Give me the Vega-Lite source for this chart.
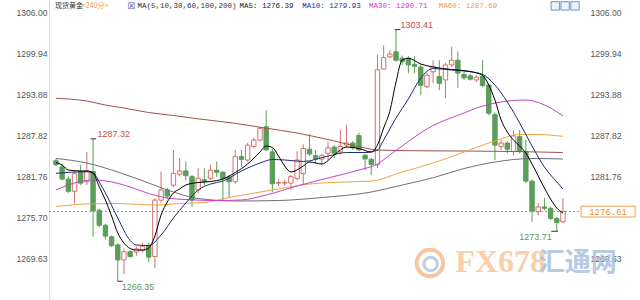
{
"$schema": "https://vega.github.io/schema/vega-lite/v6.json",
"width": 538, "height": 300,
"autosize": "none",
"padding": {"left": 49, "right": 53, "top": 0, "bottom": 0},
"background": "white",
"config": {"view": {"stroke": null}},
"datasets": {
"one": [{"k": 1}],
"icons": [{"p": 80.75}, {"p": 82.35}, {"p": 83.95}],
"candles": [
{"i":0,"o":1284.1,"h":1284.4,"l":1283.3,"c":1283.5},
{"i":1,"o":1283.2,"h":1283.6,"l":1281.2,"c":1281.4},
{"i":2,"o":1281.4,"h":1281.8,"l":1279.3,"c":1279.6},
{"i":3,"o":1279.6,"h":1282.7,"l":1277.8,"c":1282.2},
{"i":4,"o":1282.5,"h":1283.5,"l":1280.5,"c":1280.8},
{"i":5,"o":1281.0,"h":1285.4,"l":1280.5,"c":1282.6},
{"i":6,"o":1282.5,"h":1287.32,"l":1272.9,"c":1276.7},
{"i":7,"o":1276.8,"h":1277.0,"l":1274.3,"c":1274.6},
{"i":8,"o":1274.6,"h":1274.8,"l":1272.5,"c":1273.0},
{"i":9,"o":1272.9,"h":1273.1,"l":1271.4,"c":1271.6},
{"i":10,"o":1271.7,"h":1272.0,"l":1266.35,"c":1269.5},
{"i":11,"o":1269.5,"h":1271.2,"l":1267.4,"c":1270.7},
{"i":12,"o":1270.7,"h":1270.9,"l":1269.8,"c":1270.0},
{"i":13,"o":1270.66,"h":1271.5,"l":1270.07,"c":1271.1},
{"i":14,"o":1270.9,"h":1272.0,"l":1270.6,"c":1271.5},
{"i":15,"o":1271.6,"h":1272.0,"l":1269.2,"c":1269.9},
{"i":16,"o":1270.0,"h":1278.6,"l":1268.3,"c":1278.3},
{"i":17,"o":1278.3,"h":1282.5,"l":1277.9,"c":1279.8},
{"i":18,"o":1279.8,"h":1280.1,"l":1278.4,"c":1278.9},
{"i":19,"o":1280.5,"h":1285.7,"l":1280.2,"c":1282.25},
{"i":20,"o":1282.1,"h":1284.5,"l":1281.8,"c":1282.6},
{"i":21,"o":1282.6,"h":1284.0,"l":1281.2,"c":1281.9},
{"i":22,"o":1281.75,"h":1282.0,"l":1277.3,"c":1278.3},
{"i":23,"o":1279.8,"h":1283.0,"l":1279.3,"c":1281.5},
{"i":24,"o":1281.3,"h":1283.0,"l":1280.5,"c":1281.0},
{"i":25,"o":1281.5,"h":1283.5,"l":1281.2,"c":1282.7},
{"i":26,"o":1282.7,"h":1284.0,"l":1281.7,"c":1282.4},
{"i":27,"o":1282.4,"h":1282.6,"l":1278.3,"c":1281.5},
{"i":28,"o":1281.7,"h":1282.0,"l":1278.6,"c":1281.0},
{"i":29,"o":1281.0,"h":1285.7,"l":1280.7,"c":1284.7},
{"i":30,"o":1284.7,"h":1285.7,"l":1283.2,"c":1284.3},
{"i":31,"o":1284.2,"h":1286.7,"l":1283.9,"c":1286.4},
{"i":32,"o":1286.2,"h":1287.5,"l":1285.9,"c":1287.15},
{"i":33,"o":1287.15,"h":1289.1,"l":1286.9,"c":1288.87},
{"i":34,"o":1289.1,"h":1291.5,"l":1285.5,"c":1285.7},
{"i":35,"o":1285.4,"h":1285.9,"l":1279.5,"c":1280.7},
{"i":36,"o":1280.8,"h":1281.3,"l":1280.4,"c":1280.9},
{"i":37,"o":1280.8,"h":1281.3,"l":1280.4,"c":1280.9},
{"i":38,"o":1280.8,"h":1282.0,"l":1279.8,"c":1281.75},
{"i":39,"o":1281.5,"h":1285.5,"l":1281.2,"c":1284.2},
{"i":40,"o":1282.2,"h":1286.5,"l":1280.5,"c":1285.9},
{"i":41,"o":1285.8,"h":1288.0,"l":1284.8,"c":1285.1},
{"i":42,"o":1284.85,"h":1285.7,"l":1283.7,"c":1284.35},
{"i":43,"o":1284.35,"h":1285.1,"l":1283.5,"c":1284.85},
{"i":44,"o":1285.2,"h":1286.9,"l":1284.2,"c":1286.0},
{"i":45,"o":1286.1,"h":1286.4,"l":1284.5,"c":1285.2},
{"i":46,"o":1285.4,"h":1288.6,"l":1285.0,"c":1286.2},
{"i":47,"o":1286.4,"h":1289.4,"l":1286.0,"c":1286.7},
{"i":48,"o":1286.7,"h":1287.0,"l":1285.7,"c":1286.0},
{"i":49,"o":1287.8,"h":1288.2,"l":1285.5,"c":1285.7},
{"i":50,"o":1284.9,"h":1285.1,"l":1282.73,"c":1284.35},
{"i":51,"o":1284.3,"h":1284.5,"l":1282.0,"c":1283.55},
{"i":52,"o":1283.5,"h":1299.7,"l":1283.0,"c":1297.5},
{"i":53,"o":1297.6,"h":1301.1,"l":1297.5,"c":1299.3},
{"i":54,"o":1299.4,"h":1300.4,"l":1299.2,"c":1299.8},
{"i":55,"o":1300.15,"h":1303.41,"l":1298.7,"c":1298.9},
{"i":56,"o":1299.2,"h":1299.6,"l":1298.2,"c":1298.7},
{"i":57,"o":1299.2,"h":1299.5,"l":1297.0,"c":1298.2},
{"i":58,"o":1298.3,"h":1299.5,"l":1297.0,"c":1298.0},
{"i":59,"o":1297.9,"h":1298.2,"l":1293.8,"c":1295.2},
{"i":60,"o":1295.0,"h":1297.0,"l":1294.8,"c":1296.7},
{"i":61,"o":1297.2,"h":1298.9,"l":1295.5,"c":1297.95},
{"i":62,"o":1296.5,"h":1298.9,"l":1294.5,"c":1295.5},
{"i":63,"o":1296.0,"h":1298.5,"l":1293.3,"c":1298.2},
{"i":64,"o":1298.2,"h":1300.9,"l":1297.9,"c":1298.9},
{"i":65,"o":1298.9,"h":1300.2,"l":1294.8,"c":1297.0},
{"i":66,"o":1296.8,"h":1297.2,"l":1296.0,"c":1296.3},
{"i":67,"o":1296.6,"h":1296.9,"l":1295.9,"c":1296.1},
{"i":68,"o":1296.0,"h":1296.7,"l":1295.7,"c":1296.4},
{"i":69,"o":1296.5,"h":1298.9,"l":1294.9,"c":1295.15},
{"i":70,"o":1295.25,"h":1295.5,"l":1290.8,"c":1291.1},
{"i":71,"o":1290.9,"h":1291.2,"l":1284.2,"c":1286.4},
{"i":72,"o":1286.2,"h":1287.15,"l":1285.7,"c":1286.7},
{"i":73,"o":1286.7,"h":1287.0,"l":1285.2,"c":1285.8},
{"i":74,"o":1285.45,"h":1288.6,"l":1284.9,"c":1287.75},
{"i":75,"o":1287.65,"h":1288.6,"l":1285.2,"c":1285.45},
{"i":76,"o":1285.4,"h":1287.15,"l":1280.8,"c":1281.1},
{"i":77,"o":1281.1,"h":1281.3,"l":1275.1,"c":1276.7},
{"i":78,"o":1276.6,"h":1277.9,"l":1276.1,"c":1277.3},
{"i":79,"o":1277.3,"h":1278.6,"l":1276.8,"c":1277.1},
{"i":80,"o":1277.1,"h":1277.3,"l":1275.4,"c":1275.6},
{"i":81,"o":1275.6,"h":1275.8,"l":1273.71,"c":1275.0},
{"i":82,"o":1275.1,"h":1278.6,"l":1274.9,"c":1276.61}
],
"ma": [
{"ma":"MA200","i":0,"v":1293.29},{"ma":"MA200","i":5,"v":1292.89},{"ma":"MA200","i":8,"v":1292.30},{"ma":"MA200","i":11,"v":1291.86},{"ma":"MA200","i":15,"v":1291.20},{"ma":"MA200","i":19,"v":1290.76},{"ma":"MA200","i":23,"v":1290.27},{"ma":"MA200","i":29,"v":1289.60},{"ma":"MA200","i":34,"v":1288.89},{"ma":"MA200","i":39,"v":1288.18},{"ma":"MA200","i":44,"v":1287.22},{"ma":"MA200","i":50,"v":1285.97},{"ma":"MA200","i":52,"v":1285.68},{"ma":"MA200","i":58,"v":1285.57},{"ma":"MA200","i":66,"v":1285.53},{"ma":"MA200","i":74,"v":1285.46},{"ma":"MA200","i":82,"v":1285.31},
{"ma":"MA100","i":0,"v":1284.43},{"ma":"MA100","i":5,"v":1283.76},{"ma":"MA100","i":10,"v":1282.44},{"ma":"MA100","i":15,"v":1280.82},{"ma":"MA100","i":19,"v":1279.49},{"ma":"MA100","i":23,"v":1278.54},{"ma":"MA100","i":29,"v":1278.17},{"ma":"MA100","i":36,"v":1278.24},{"ma":"MA100","i":43,"v":1278.68},{"ma":"MA100","i":51,"v":1279.49},{"ma":"MA100","i":56,"v":1280.52},{"ma":"MA100","i":61,"v":1281.60},{"ma":"MA100","i":66,"v":1282.95},{"ma":"MA100","i":71,"v":1283.91},{"ma":"MA100","i":77,"v":1284.43},{"ma":"MA100","i":82,"v":1284.35},
{"ma":"MA60","i":0,"v":1277.36},{"ma":"MA60","i":5,"v":1277.73},{"ma":"MA60","i":10,"v":1277.80},{"ma":"MA60","i":16,"v":1277.58},{"ma":"MA60","i":20,"v":1277.80},{"ma":"MA60","i":24,"v":1277.95},{"ma":"MA60","i":28,"v":1278.68},{"ma":"MA60","i":35,"v":1279.79},{"ma":"MA60","i":41,"v":1280.67},{"ma":"MA60","i":47,"v":1280.97},{"ma":"MA60","i":51,"v":1281.11},{"ma":"MA60","i":56,"v":1282.44},{"ma":"MA60","i":61,"v":1283.76},{"ma":"MA60","i":66,"v":1285.38},{"ma":"MA60","i":71,"v":1287.00},{"ma":"MA60","i":75,"v":1287.96},{"ma":"MA60","i":78,"v":1287.96},{"ma":"MA60","i":82,"v":1287.69},
{"ma":"MA30","i":0,"v":1279.79},{"ma":"MA30","i":3,"v":1280.82},{"ma":"MA30","i":6,"v":1281.26},{"ma":"MA30","i":9,"v":1280.97},{"ma":"MA30","i":12,"v":1280.23},{"ma":"MA30","i":15,"v":1279.27},{"ma":"MA30","i":18,"v":1278.61},{"ma":"MA30","i":21,"v":1278.39},{"ma":"MA30","i":26,"v":1278.24},{"ma":"MA30","i":30,"v":1278.32},{"ma":"MA30","i":34,"v":1279.05},{"ma":"MA30","i":39,"v":1280.38},{"ma":"MA30","i":44,"v":1281.56},{"ma":"MA30","i":49,"v":1282.73},{"ma":"MA30","i":52,"v":1283.62},{"ma":"MA30","i":54,"v":1284.94},{"ma":"MA30","i":56,"v":1286.27},{"ma":"MA30","i":58,"v":1287.59},{"ma":"MA30","i":61,"v":1289.29},{"ma":"MA30","i":63,"v":1290.10},{"ma":"MA30","i":66,"v":1291.13},{"ma":"MA30","i":68,"v":1291.86},{"ma":"MA30","i":70,"v":1292.38},{"ma":"MA30","i":73,"v":1292.89},{"ma":"MA30","i":76,"v":1293.04},{"ma":"MA30","i":78,"v":1292.67},{"ma":"MA30","i":80,"v":1291.86},{"ma":"MA30","i":82,"v":1290.71},
{"ma":"MA10","i":0,"v":1282.25},{"ma":"MA10","i":5,"v":1282.48},{"ma":"MA10","i":6,"v":1282.34},{"ma":"MA10","i":7,"v":1280.97},{"ma":"MA10","i":8,"v":1279.35},{"ma":"MA10","i":10,"v":1275.66},{"ma":"MA10","i":12,"v":1272.35},{"ma":"MA10","i":13,"v":1271.69},{"ma":"MA10","i":15,"v":1271.61},{"ma":"MA10","i":17,"v":1273.16},{"ma":"MA10","i":19,"v":1275.66},{"ma":"MA10","i":21,"v":1277.87},{"ma":"MA10","i":23,"v":1279.79},{"ma":"MA10","i":25,"v":1280.67},{"ma":"MA10","i":27,"v":1281.11},{"ma":"MA10","i":30,"v":1282.59},{"ma":"MA10","i":33,"v":1283.76},{"ma":"MA10","i":35,"v":1284.28},{"ma":"MA10","i":37,"v":1284.21},{"ma":"MA10","i":40,"v":1283.99},{"ma":"MA10","i":44,"v":1284.79},{"ma":"MA10","i":47,"v":1285.31},{"ma":"MA10","i":50,"v":1285.31},{"ma":"MA10","i":52,"v":1285.68},{"ma":"MA10","i":53,"v":1287.15},{"ma":"MA10","i":55,"v":1290.39},{"ma":"MA10","i":57,"v":1293.19},{"ma":"MA10","i":59,"v":1296.28},{"ma":"MA10","i":61,"v":1297.68},{"ma":"MA10","i":64,"v":1297.46},{"ma":"MA10","i":67,"v":1297.21},{"ma":"MA10","i":69,"v":1296.80},{"ma":"MA10","i":71,"v":1295.25},{"ma":"MA10","i":73,"v":1292.75},{"ma":"MA10","i":75,"v":1289.65},{"ma":"MA10","i":77,"v":1286.27},{"ma":"MA10","i":79,"v":1283.17},{"ma":"MA10","i":81,"v":1280.97},{"ma":"MA10","i":82,"v":1279.93},
{"ma":"MA5","i":0,"v":1283.84},{"ma":"MA5","i":1,"v":1283.47},{"ma":"MA5","i":2,"v":1282.73},{"ma":"MA5","i":4,"v":1282.59},{"ma":"MA5","i":5,"v":1282.59},{"ma":"MA5","i":6,"v":1282.29},{"ma":"MA5","i":7,"v":1280.27},{"ma":"MA5","i":8,"v":1278.31},{"ma":"MA5","i":9,"v":1275.96},{"ma":"MA5","i":10,"v":1273.46},{"ma":"MA5","i":11,"v":1271.98},{"ma":"MA5","i":12,"v":1271.17},{"ma":"MA5","i":13,"v":1270.95},{"ma":"MA5","i":14,"v":1270.95},{"ma":"MA5","i":15,"v":1271.25},{"ma":"MA5","i":16,"v":1273.01},{"ma":"MA5","i":17,"v":1276.11},{"ma":"MA5","i":18,"v":1278.02},{"ma":"MA5","i":19,"v":1279.35},{"ma":"MA5","i":20,"v":1279.93},{"ma":"MA5","i":21,"v":1280.52},{"ma":"MA5","i":23,"v":1280.89},{"ma":"MA5","i":25,"v":1281.04},{"ma":"MA5","i":27,"v":1281.41},{"ma":"MA5","i":29,"v":1282.36},{"ma":"MA5","i":31,"v":1283.62},{"ma":"MA5","i":33,"v":1285.38},{"ma":"MA5","i":34,"v":1286.27},{"ma":"MA5","i":35,"v":1286.05},{"ma":"MA5","i":36,"v":1284.79},{"ma":"MA5","i":37,"v":1283.32},{"ma":"MA5","i":38,"v":1282.44},{"ma":"MA5","i":40,"v":1283.32},{"ma":"MA5","i":41,"v":1283.91},{"ma":"MA5","i":43,"v":1283.62},{"ma":"MA5","i":45,"v":1284.94},{"ma":"MA5","i":47,"v":1286.12},{"ma":"MA5","i":49,"v":1285.90},{"ma":"MA5","i":51,"v":1285.38},{"ma":"MA5","i":52,"v":1286.4},{"ma":"MA5","i":53,"v":1288.92},{"ma":"MA5","i":54,"v":1291.4},{"ma":"MA5","i":55,"v":1295.69},{"ma":"MA5","i":56,"v":1298.93},{"ma":"MA5","i":57,"v":1299.18},{"ma":"MA5","i":59,"v":1298.34},{"ma":"MA5","i":61,"v":1297.90},{"ma":"MA5","i":64,"v":1297.53},{"ma":"MA5","i":67,"v":1297.24},{"ma":"MA5","i":69,"v":1296.65},{"ma":"MA5","i":70,"v":1295.25},{"ma":"MA5","i":71,"v":1293.04},{"ma":"MA5","i":72,"v":1290.10},{"ma":"MA5","i":73,"v":1288.33},{"ma":"MA5","i":74,"v":1287.15},{"ma":"MA5","i":75,"v":1286.27},{"ma":"MA5","i":76,"v":1285.24},{"ma":"MA5","i":77,"v":1283.62},{"ma":"MA5","i":78,"v":1281.85},{"ma":"MA5","i":79,"v":1280.08},{"ma":"MA5","i":80,"v":1278.46},{"ma":"MA5","i":81,"v":1277.14},{"ma":"MA5","i":82,"v":1276.39}
]
},
"resolve": {"axis": {"y": "independent"}},
"layer": [
{"data": {"name": "candles"},
 "mark": {"type": "rule", "strokeWidth": 1},
 "encoding": {
  "x": {"field": "i", "type": "quantitative", "scale": {"domain": [-0.317, 85.08], "nice": false, "zero": false}, "axis": null},
  "y": {"field": "l", "type": "quantitative", "scale": {"domain": [1263.59, 1307.77], "nice": false, "zero": false},
        "axis": {"orient": "left", "values": [1306.00, 1299.94, 1293.88, 1287.82, 1281.76, 1275.70, 1269.63], "format": ".2f", "title": null, "ticks": false, "grid": false, "domain": true, "domainColor": "#dcdcdc", "labelColor": "#555555", "labelFont": "Liberation Sans", "labelFontSize": 8.6, "labelPadding": 2, "labelOverlap": false}},
  "y2": {"field": "h"},
  "color": {"condition": {"test": "datum.c >= datum.o", "value": "#d46f6f"}, "value": "#5a9e5a"}
 }},
{"data": {"name": "candles"},
 "mark": {"type": "bar", "width": 4.4, "strokeWidth": 1},
 "encoding": {
  "x": {"field": "i", "type": "quantitative", "axis": null},
  "y": {"field": "o", "type": "quantitative",
        "axis": {"orient": "right", "values": [1306.00, 1299.94, 1293.88, 1287.82, 1281.76, 1269.63], "format": ".2f", "title": null, "ticks": false, "grid": false, "domain": false, "labelColor": "#555555", "labelFont": "Liberation Sans", "labelFontSize": 8.6, "labelPadding": 3, "labelOverlap": false, "zindex": 0}},
  "y2": {"field": "c"},
  "fill": {"condition": {"test": "datum.c >= datum.o", "value": "#ffffff"}, "value": "#5a9e5a"},
  "stroke": {"condition": {"test": "datum.c >= datum.o", "value": "#d46f6f"}, "value": "#5a9e5a"}
 }},
{"data": {"name": "one"},
 "mark": {"type": "text", "align": "left", "baseline": "middle", "font": "Liberation Sans Narrow", "fontSize": 32, "fontWeight": "bold", "color": "#f6c79c", "opacity": 0.85},
 "encoding": {"x": {"datum": 64.6, "type": "quantitative", "axis": null}, "y": {"datum": 1269.19, "type": "quantitative", "axis": null}, "text": {"value": "FX678"}}},
{"data": {"name": "one"},
 "mark": {"type": "text", "align": "left", "baseline": "middle", "font": "Noto Sans CJK SC", "fontSize": 26, "fontWeight": "bold", "color": "#a9c2df", "opacity": 0.85},
 "encoding": {"x": {"datum": 78.1, "type": "quantitative", "axis": null}, "y": {"datum": 1268.97, "type": "quantitative", "axis": null}, "text": {"value": "汇通网"}}},
{"data": {"name": "one"},
 "mark": {"type": "point", "shape": "circle", "size": 700, "filled": false, "stroke": "#f3b98a", "strokeWidth": 4, "opacity": 0.8},
 "encoding": {"x": {"datum": 60.48, "type": "quantitative", "axis": null}, "y": {"datum": 1269.04, "type": "quantitative", "axis": null}}},
{"data": {"name": "one"},
 "mark": {"type": "point", "shape": "circle", "size": 180, "filled": false, "stroke": "#a9c2df", "strokeWidth": 3, "opacity": 0.8},
 "encoding": {"x": {"datum": 60.6, "type": "quantitative", "axis": null}, "y": {"datum": 1268.9, "type": "quantitative", "axis": null}}},
{"data": {"name": "one"},
 "mark": {"type": "rule", "strokeDash": [2, 2], "color": "#7b9cc4", "strokeWidth": 1},
 "encoding": {"y": {"datum": 1276.61, "type": "quantitative", "axis": null}}},
{"data": {"name": "ma"},
 "mark": {"type": "line", "interpolate": "monotone", "strokeWidth": 1},
 "encoding": {
  "x": {"field": "i", "type": "quantitative", "axis": null},
  "y": {"field": "v", "type": "quantitative", "axis": null},
  "color": {"field": "ma", "type": "nominal", "legend": null,
            "scale": {"domain": ["MA200", "MA100", "MA60", "MA30", "MA10", "MA5"], "range": ["#a3504c", "#6f6f7d", "#eba546", "#c146c4", "#1c2a74", "#000000"]}},
  "order": {"field": "i", "type": "quantitative"}
 }},
{"data": {"name": "one"}, "mark": {"type": "rule", "color": "#333333", "strokeWidth": 1},
 "encoding": {"x": {"datum": 5.6, "type": "quantitative", "axis": null}, "x2": {"datum": 6.5}, "y": {"datum": 1287.32, "type": "quantitative", "axis": null}}},
{"data": {"name": "one"}, "mark": {"type": "rule", "color": "#333333", "strokeWidth": 1},
 "encoding": {"x": {"datum": 54.8, "type": "quantitative", "axis": null}, "x2": {"datum": 55.7}, "y": {"datum": 1303.41, "type": "quantitative", "axis": null}}},
{"data": {"name": "one"}, "mark": {"type": "rule", "color": "#333333", "strokeWidth": 1},
 "encoding": {"x": {"datum": 9.95, "type": "quantitative", "axis": null}, "x2": {"datum": 10.8}, "y": {"datum": 1266.35, "type": "quantitative", "axis": null}}},
{"data": {"name": "one"}, "mark": {"type": "rule", "color": "#333333", "strokeWidth": 1},
 "encoding": {"x": {"datum": 80.1, "type": "quantitative", "axis": null}, "x2": {"datum": 81.2}, "y": {"datum": 1273.71, "type": "quantitative", "axis": null}}},
{"data": {"name": "one"}, "mark": {"type": "text", "align": "left", "baseline": "middle", "dx": 4.5, "dy": -5, "font": "Liberation Sans", "fontSize": 9, "color": "#c0524a"},
 "encoding": {"x": {"datum": 6, "type": "quantitative", "axis": null}, "y": {"datum": 1287.32, "type": "quantitative", "axis": null}, "text": {"value": "1287.32"}}},
{"data": {"name": "one"}, "mark": {"type": "text", "align": "left", "baseline": "middle", "dx": 4.5, "dy": -4.6, "font": "Liberation Sans", "fontSize": 9, "color": "#c0524a"},
 "encoding": {"x": {"datum": 55, "type": "quantitative", "axis": null}, "y": {"datum": 1303.41, "type": "quantitative", "axis": null}, "text": {"value": "1303.41"}}},
{"data": {"name": "one"}, "mark": {"type": "text", "align": "left", "baseline": "middle", "dx": 4, "dy": 6.2, "font": "Liberation Sans", "fontSize": 9, "color": "#5a9a5a"},
 "encoding": {"x": {"datum": 10, "type": "quantitative", "axis": null}, "y": {"datum": 1266.35, "type": "quantitative", "axis": null}, "text": {"value": "1266.35"}}},
{"data": {"name": "one"}, "mark": {"type": "text", "align": "right", "baseline": "middle", "dx": -5, "dy": 6.2, "font": "Liberation Sans", "fontSize": 9, "color": "#5a9a5a"},
 "encoding": {"x": {"datum": 81, "type": "quantitative", "axis": null}, "y": {"datum": 1273.71, "type": "quantitative", "axis": null}, "text": {"value": "1273.71"}}},
{"data": {"name": "one"}, "mark": {"type": "point", "shape": "M-1,-0.2L1,-0.2L1,0.2L-1,0.2Z", "size": 2916, "filled": false, "stroke": "#f0a050", "fill": "#ffffff", "fillOpacity": 1, "strokeWidth": 1, "opacity": 1},
 "encoding": {"x": {"datum": 89.3, "type": "quantitative", "axis": null}, "y": {"datum": 1276.61, "type": "quantitative", "axis": null}}},
{"data": {"name": "one"}, "mark": {"type": "text", "align": "center", "baseline": "middle", "font": "Liberation Mono", "fontSize": 9, "color": "#e8962e"},
 "encoding": {"x": {"datum": 89.3, "type": "quantitative", "axis": null}, "y": {"datum": 1276.61, "type": "quantitative", "axis": null}, "text": {"value": "1276.61"}}},
{"data": {"name": "icons"}, "mark": {"type": "point", "shape": "square", "size": 70, "filled": false, "stroke": "#6f95c8", "fill": "#eef3fb", "fillOpacity": 1, "strokeWidth": 1, "opacity": 1},
 "encoding": {"x": {"field": "p", "type": "quantitative", "axis": null}, "y": {"datum": 1306.9, "type": "quantitative", "axis": null}}},
{"data": {"name": "one"}, "mark": {"type": "text", "align": "left", "baseline": "middle", "font": "Noto Sans CJK SC", "fontSize": 7, "color": "#333333"},
 "encoding": {"x": {"datum": -0.16, "type": "quantitative", "axis": null}, "y": {"datum": 1306.88, "type": "quantitative", "axis": null}, "text": {"value": "现货黄金"}}},
{"data": {"name": "one"}, "mark": {"type": "text", "align": "left", "baseline": "middle", "font": "Noto Sans CJK SC", "fontSize": 7, "color": "#f0a040"},
 "encoding": {"x": {"datum": 4.2, "type": "quantitative", "axis": null}, "y": {"datum": 1306.88, "type": "quantitative", "axis": null}, "text": {"value": "<240分>"}}},
{"data": {"name": "one"}, "mark": {"type": "text", "align": "left", "baseline": "middle", "font": "DejaVu Sans", "fontSize": 9, "color": "#3a5a9a"},
 "encoding": {"x": {"datum": 11.55, "type": "quantitative", "axis": null}, "y": {"datum": 1306.88, "type": "quantitative", "axis": null}, "text": {"value": "☒"}}},
{"data": {"name": "one"}, "mark": {"type": "text", "align": "left", "baseline": "middle", "font": "Liberation Mono", "fontSize": 7.5, "color": "#333333"},
 "encoding": {"x": {"datum": 13.18, "type": "quantitative", "axis": null}, "y": {"datum": 1306.88, "type": "quantitative", "axis": null}, "text": {"value": "MA(5,10,30,60,100,200)"}}},
{"data": {"name": "one"}, "mark": {"type": "text", "align": "left", "baseline": "middle", "font": "Liberation Mono", "fontSize": 7.5, "color": "#222222"},
 "encoding": {"x": {"datum": 29.68, "type": "quantitative", "axis": null}, "y": {"datum": 1306.88, "type": "quantitative", "axis": null}, "text": {"value": "MA5: 1276.39"}}},
{"data": {"name": "one"}, "mark": {"type": "text", "align": "left", "baseline": "middle", "font": "Liberation Mono", "fontSize": 7.5, "color": "#2c2c8c"},
 "encoding": {"x": {"datum": 39.84, "type": "quantitative", "axis": null}, "y": {"datum": 1306.88, "type": "quantitative", "axis": null}, "text": {"value": "MA10: 1279.93"}}},
{"data": {"name": "one"}, "mark": {"type": "text", "align": "left", "baseline": "middle", "font": "Liberation Mono", "fontSize": 7.5, "color": "#cc3acc"},
 "encoding": {"x": {"datum": 50.63, "type": "quantitative", "axis": null}, "y": {"datum": 1306.88, "type": "quantitative", "axis": null}, "text": {"value": "MA30: 1290.71"}}},
{"data": {"name": "one"}, "mark": {"type": "text", "align": "left", "baseline": "middle", "font": "Liberation Mono", "fontSize": 7.5, "color": "#e9a043"},
 "encoding": {"x": {"datum": 61.9, "type": "quantitative", "axis": null}, "y": {"datum": 1306.88, "type": "quantitative", "axis": null}, "text": {"value": "MA60: 1287.69"}}}
]
}
